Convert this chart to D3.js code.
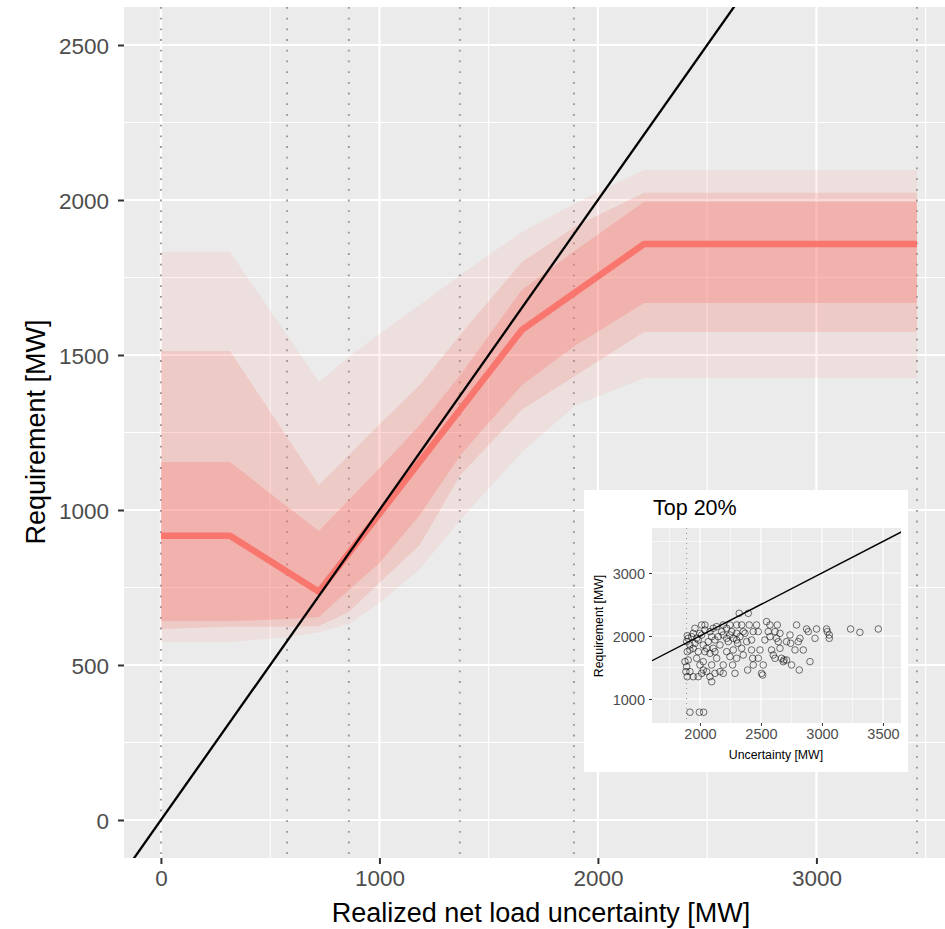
<!DOCTYPE html>
<html>
<head>
<meta charset="utf-8">
<script src="https://cdn.jsdelivr.net/npm/d3@7"></script>
<style>
  body { margin: 0; background: #fff; }
  svg { display: block; }
  text { font-family: "Liberation Sans", Arial, sans-serif; }
</style>
</head>
<body>
<svg id="chart" width="945" height="929"></svg>
<script>
// ---- data ----
// x points of the quantile ribbons (realized uncertainty, MW)
var bandX   = [0, 316, 580, 723, 860, 1000, 1185, 1370, 1652, 1900, 2211, 3460];
var outerHi = [1832, 1832, 1561, 1413, 1494, 1568, 1661, 1758, 1897, 1990, 2097, 2097];
var outerLo = [574, 574, 590, 606, 632, 700, 810, 968, 1187, 1339, 1426, 1426];
var midHi   = [1513, 1513, 1232, 1081, 1177, 1277, 1403, 1565, 1800, 1916, 2023, 2023];
var midLo   = [616, 623, 623, 626, 671, 765, 887, 1113, 1323, 1435, 1574, 1574];
var innerHi = [1155, 1155, 1010, 932, 1032, 1135, 1274, 1435, 1710, 1839, 1994, 1994];
var innerLo = [642, 642, 648, 655, 742, 829, 984, 1177, 1403, 1532, 1668, 1668];

// median requirement line
var medX = [0, 316, 723, 1652, 2211, 3460];
var medY = [917, 917, 736, 1581, 1858, 1858];

// bin edges (dotted verticals)
var binEdges = [0, 577, 860, 1368, 1890, 3460];

var xTicks = [0, 1000, 2000, 3000];
var yTicks = [0, 500, 1000, 1500, 2000, 2500];

// inset: top 20% scatter
var topX = [1918,1995,2030,3235,3311,3462,3038,3044,3060,3060,2956,2943,2874,2888,2792,2820,2806,2902,2814,2779,
  2847,2743,2656,2642,2574,2560,2634,2615,2656,2628,2669,2689,2710,2751,2683,2587,2601,2615,2519,2514,
  2505,2423,2432,2437,2391,2383,2342,2322,2396,2404,2464,2437,2478,2423,2369,2301,2301,2355,2309,2342,
  2355,2273,2301,2268,2287,2246,2246,2232,2219,2246,2191,2164,2191,2191,2178,2150,2123,2164,2109,2082,
  2137,2096,2055,2082,2096,2123,2027,2041,2027,2014,2041,2082,2109,2137,2000,1973,1959,1945,1986,1973,
  2000,2014,1945,1918,1896,1891,1904,1896,1891,1896,1904,1918,1918,1877,1885,1986,2027,1945,1932,2492,
  2478,2546,2574,2710,2738,2532,2219,2260,2273,2191,2219,2328,2301,2096,2068,2055,2123,1986,1959,2041,2014];
var topY = [790,790,790,2111,2058,2111,2111,2069,1963,2016,2111,1963,2111,2069,2175,1963,1910,1593,1460,1778,
  1778,1884,1804,1910,2175,2069,2175,2069,2042,1963,1646,1619,1619,1540,1593,1778,1698,1646,1540,1381,
  1407,1778,1646,1540,1460,1910,2175,2360,2360,2175,2175,2069,2069,1937,2042,2042,2175,2069,1884,1804,
  1698,1778,1646,1540,1407,2175,2016,1910,1751,1672,1540,1434,1407,2175,2069,1989,1937,1857,1804,1725,
  1646,1540,1434,1354,1275,1407,1593,1751,1857,2016,2095,2069,2122,2148,2042,1963,1884,1804,1751,1646,
  1540,1407,1354,1434,1354,1513,1619,1751,1910,2005,1963,1857,1778,1593,1434,1354,1460,2042,1989,1778,
  1646,2228,1989,1910,2016,1937,2122,2069,1963,2016,1963,1989,1937,1989,1910,1804,1751,1937,2122,2175,2175];
var insetXTicks = [2000, 2500, 3000, 3500];
var insetYTicks = [1000, 2000, 3000];

// ---- drawing ----
var svg = d3.select("#chart");
var red = "#F8766D";

var x = d3.scaleLinear().domain([-169, 3648]).range([124, 958]);
var y = d3.scaleLinear().domain([-122.6, 2622.6]).range([858, 7]);

svg.append("defs").append("clipPath").attr("id", "panel")
  .append("rect").attr("x", 124).attr("y", 7).attr("width", 834).attr("height", 851);

svg.append("rect").attr("x", 124).attr("y", 7).attr("width", 834).attr("height", 851).attr("fill", "#EBEBEB");

var main = svg.append("g").attr("clip-path", "url(#panel)");

// grid
main.selectAll(".xminor").data([500, 1500, 2500, 3500]).enter().append("line")
  .attr("x1", d => x(d)).attr("x2", d => x(d)).attr("y1", 7).attr("y2", 858)
  .attr("stroke", "#fff").attr("stroke-width", 1.1);
main.selectAll(".yminor").data(d3.range(250, 2600, 500)).enter().append("line")
  .attr("y1", d => y(d)).attr("y2", d => y(d)).attr("x1", 124).attr("x2", 958)
  .attr("stroke", "#fff").attr("stroke-width", 1.1);
main.selectAll(".xmajor").data(xTicks).enter().append("line")
  .attr("x1", d => x(d)).attr("x2", d => x(d)).attr("y1", 7).attr("y2", 858)
  .attr("stroke", "#fff").attr("stroke-width", 2.2);
main.selectAll(".ymajor").data(yTicks).enter().append("line")
  .attr("y1", d => y(d)).attr("y2", d => y(d)).attr("x1", 124).attr("x2", 958)
  .attr("stroke", "#fff").attr("stroke-width", 2.2);

// dotted bin edges
main.selectAll(".bin").data(binEdges).enter().append("line")
  .attr("x1", d => x(d)).attr("x2", d => x(d)).attr("y1", 7).attr("y2", 858)
  .attr("stroke", "#999").attr("stroke-width", 1.9).attr("stroke-dasharray", "1.8,8.9");

// ribbons
function band(lo, hi, op) {
  var pts = bandX.map((v, i) => ({x: v, lo: lo[i], hi: hi[i]}));
  var area = d3.area().x(d => x(d.x)).y0(d => y(d.lo)).y1(d => y(d.hi));
  main.append("path").datum(pts).attr("d", area).attr("fill", red).attr("fill-opacity", op);
}
band(outerLo, outerHi, 0.1);
band(midLo, midHi, 0.2);
band(innerLo, innerHi, 0.3);

// median
var med = medX.map((v, i) => [v, medY[i]]);
main.append("path").datum(med)
  .attr("d", d3.line().x(d => x(d[0])).y(d => y(d[1])))
  .attr("fill", "none").attr("stroke", red).attr("stroke-width", 6.5).attr("stroke-linejoin", "round");

// y = x
main.append("line")
  .attr("x1", x(-169)).attr("y1", y(-169)).attr("x2", x(3648)).attr("y2", y(3648))
  .attr("stroke", "#000").attr("stroke-width", 2.3);

// axes
var xAxis = svg.append("g").attr("transform", "translate(0,858)")
  .call(d3.axisBottom(x).tickValues(xTicks).tickSize(6).tickPadding(6).tickFormat(d3.format("d")));
var yAxis = svg.append("g").attr("transform", "translate(124,0)")
  .call(d3.axisLeft(y).tickValues(yTicks).tickSize(6).tickPadding(9).tickFormat(d3.format("d")));
[xAxis, yAxis].forEach(function(a) {
  a.select(".domain").remove();
  a.selectAll(".tick line").attr("stroke", "#333").attr("stroke-width", 2);
  a.selectAll(".tick text").attr("fill", "#4D4D4D").style("font-size", "22.5px")
    .style("font-family", "'Liberation Sans', Arial, sans-serif");
});
yAxis.selectAll(".tick text").attr("dy", "0.36em");

svg.append("text").attr("x", 541).attr("y", 922).attr("text-anchor", "middle")
  .style("font-size", "27px").text("Realized net load uncertainty [MW]");
svg.append("text").attr("transform", "translate(45,432) rotate(-90)").attr("text-anchor", "middle")
  .style("font-size", "27px").text("Requirement [MW]");

// ---- inset ----
var ix = d3.scaleLinear().domain([1607, 3648]).range([652, 901]);
var iy = d3.scaleLinear().domain([619, 3714]).range([723, 528]);
var inset = svg.append("g");
inset.append("rect").attr("x", 584).attr("y", 490).attr("width", 324).attr("height", 282).attr("fill", "#fff");
inset.append("rect").attr("x", 652).attr("y", 528).attr("width", 249).attr("height", 195).attr("fill", "#EBEBEB");

svg.append("defs").append("clipPath").attr("id", "ipanel")
  .append("rect").attr("x", 652).attr("y", 528).attr("width", 249).attr("height", 195);
var ip = inset.append("g").attr("clip-path", "url(#ipanel)");

ip.selectAll(".ixm").data([1750, 2250, 2750, 3250]).enter().append("line")
  .attr("x1", d => ix(d)).attr("x2", d => ix(d)).attr("y1", 528).attr("y2", 723)
  .attr("stroke", "#fff").attr("stroke-width", 0.6);
ip.selectAll(".iym").data([1500, 2500, 3500]).enter().append("line")
  .attr("y1", d => iy(d)).attr("y2", d => iy(d)).attr("x1", 652).attr("x2", 901)
  .attr("stroke", "#fff").attr("stroke-width", 0.6);
ip.selectAll(".ixM").data(insetXTicks).enter().append("line")
  .attr("x1", d => ix(d)).attr("x2", d => ix(d)).attr("y1", 528).attr("y2", 723)
  .attr("stroke", "#fff").attr("stroke-width", 1.2);
ip.selectAll(".iyM").data(insetYTicks).enter().append("line")
  .attr("y1", d => iy(d)).attr("y2", d => iy(d)).attr("x1", 652).attr("x2", 901)
  .attr("stroke", "#fff").attr("stroke-width", 1.2);
ip.append("line").attr("x1", ix(binEdges[4])).attr("x2", ix(binEdges[4])).attr("y1", 528).attr("y2", 723)
  .attr("stroke", "#999").attr("stroke-width", 1.1).attr("stroke-dasharray", "1,4");

ip.selectAll("circle").data(topX.map((v, i) => [v, topY[i]])).enter().append("circle")
  .attr("cx", d => ix(d[0])).attr("cy", d => iy(d[1])).attr("r", 3.3)
  .attr("fill", "none").attr("stroke", "#000").attr("stroke-opacity", 0.6).attr("stroke-width", 0.9);

ip.append("line").attr("x1", ix(1607)).attr("y1", iy(1607)).attr("x2", ix(3714)).attr("y2", iy(3714))
  .attr("stroke", "#000").attr("stroke-width", 1.4);

var ixAxis = inset.append("g").attr("transform", "translate(0,723)")
  .call(d3.axisBottom(ix).tickValues(insetXTicks).tickSize(3).tickPadding(3).tickFormat(d3.format("d")));
var iyAxis = inset.append("g").attr("transform", "translate(652,0)")
  .call(d3.axisLeft(iy).tickValues(insetYTicks).tickSize(3).tickPadding(4).tickFormat(d3.format("d")));
[ixAxis, iyAxis].forEach(function(a) {
  a.select(".domain").remove();
  a.selectAll(".tick line").attr("stroke", "#333").attr("stroke-width", 1);
  a.selectAll(".tick text").attr("fill", "#4D4D4D").style("font-size", "14.5px")
    .style("font-family", "'Liberation Sans', Arial, sans-serif");
});
iyAxis.selectAll(".tick text").attr("dy", "0.36em");

inset.append("text").attr("x", 776).attr("y", 759).attr("text-anchor", "middle")
  .style("font-size", "12.3px").text("Uncertainty [MW]");
inset.append("text").attr("transform", "translate(603,626) rotate(-90)").attr("text-anchor", "middle")
  .style("font-size", "12.3px").text("Requirement [MW]");
inset.append("text").attr("x", 653).attr("y", 515).style("font-size", "21.5px").text("Top 20%");
</script>
</body>
</html>
